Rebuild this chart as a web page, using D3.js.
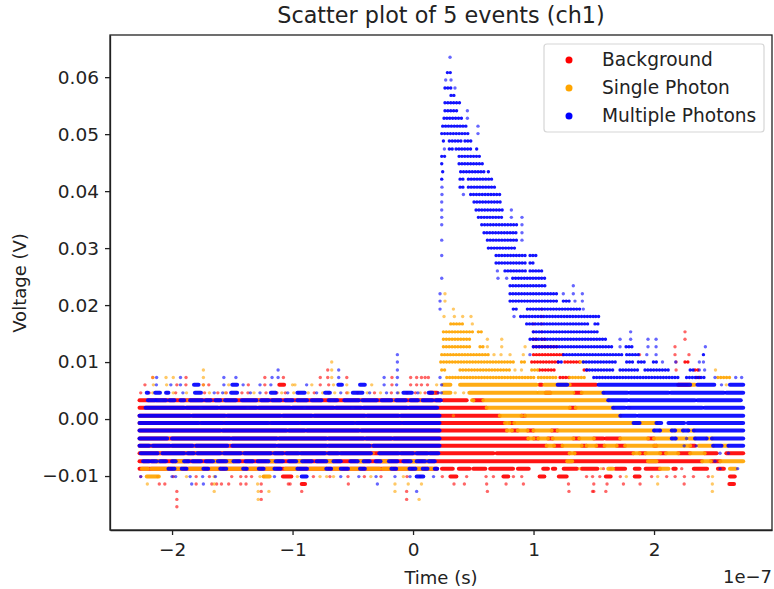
<!DOCTYPE html>
<html lang="en">
<head>
<meta charset="UTF-8">
<title>Scatter plot of 5 events (ch1)</title>
<script src="https://d3js.org/d3.v7.min.js"></script>
<style>
    body { margin: 0; background: #fff; font-family: "DejaVu Sans", sans-serif; }
    svg { display: block; }
    .axis text { font-size: 18.5px; fill: #222; font-family: "DejaVu Sans", sans-serif; }
    .axis path, .axis line { stroke: #222; stroke-width: 1.3; }
    .label { font-size: 18px; fill: #222; }
    .legend-label { font-size: 18.6px; fill: #222; }
</style>
</head>
<body>
<div id="chart"></div>
<script>
    // tick labels
    const xTicks = [-2, -1, 0, 1, 2];
    const yTicks = [-0.01, 0, 0.01, 0.02, 0.03, 0.04, 0.05, 0.06];
    const legendNames = ["Background", "Single Photon", "Multiple Photons"];

    // the digitizer only gives these voltages (V), top row first
    const levels = [
        0.0635, 0.0621, 0.0608, 0.0595, 0.0581, 0.0568, 0.0555, 0.0541, 0.0528, 0.0514,
        0.0501, 0.0488, 0.0474, 0.0461, 0.0448, 0.0434, 0.0421, 0.0407, 0.0394, 0.0381,
        0.0367, 0.0354, 0.0341, 0.0327, 0.0314, 0.0300, 0.0287, 0.0274, 0.0260, 0.0247,
        0.0234, 0.0220, 0.0207, 0.0193, 0.0180, 0.0167, 0.0153, 0.0140, 0.0127, 0.0113,
        0.0100, 0.0086, 0.0073, 0.0060, 0.0046, 0.0033, 0.0020, 0.0006, -0.0007, -0.0020,
        -0.0034, -0.0047, -0.0060, -0.0074, -0.0087, -0.0101, -0.0114, -0.0127, -0.0141, -0.0154
    ];

    // [row in levels, readings]: a number is one sample time (in 1e-7 s),
    // a pair is a stretch of touching samples
    const redRuns = [
        [33, [1.068]], [34, [1.068]], [35, [1.0, 1.068]], [36, [1.0, 1.068, 2.257]],
        [37, [[1.0, 1.03], [1.07, 1.1], 2.257]],
        [38, [[1.0, 1.2], 2.174]],
        [39, [[1.0, 1.25], 1.88, 2.174, 2.29]],
        [40, [[0.985, 1.21], [1.26, 1.39], 2.183, [2.257, 2.293]]],
        [41, [-0.708, [1.05, 1.18], [1.42, 1.46], 2.183, [2.34, 2.37]]],
        [42, [-2.16, -1.884, -1.23, -1.076, -0.77, -0.708, -0.55, -0.175, -0.02, 0.03, 0.07, 0.1, 0.127, [1.22, 1.3], [2.354, 2.38]]],
        [43, [-2.225, -1.96, -1.885, -1.74, -1.695, -1.367, -1.23, [-1.11, -1.07], -0.77, -0.7, -0.175, -0.02, 0.03, 0.07, 0.12, [1.05, 1.07], [1.3, 1.52], [2.2, 2.3]]],
        [44, [-2.26, -2.19, -1.97, -1.73, -1.62, -1.55, -1.42, -1.37, -1.22, -1.13, -1.06, -0.95, -0.82, -0.7, -0.55, -0.46, -0.32, -0.18, -0.05, 0.02, 0.1, [0.14, 0.2], [1.1, 1.14], [1.34, 1.4]]],
        [45, [[-2.27, 0.23], [0.25, 0.445], [0.5, 0.58]]],
        [46, [[-2.27, 0.611], [1.3, 1.35]]],
        [47, [[-2.27, 0.72], [0.9, 0.93]]],
        [48, [[-2.27, 0.763], [0.8, 0.84]]],
        [49, [[-2.27, 0.78], [0.82, 0.87], [0.95, 1.0], [1.15, 1.2]]],
        [50, [[-2.27, 0.957], [1.0, 1.04], [1.12, 1.16], [1.33, 1.38], [1.5, 1.58], [1.6, 1.72], [1.95, 2.0]]],
        [51, [[-2.27, 1.109], [1.17, 1.24], [1.4, 1.44], [1.52, 1.59], [1.69, 1.76], [2.0, 2.02], [2.3, 2.34]]],
        [52, [[-2.27, 0.667], [0.694, 1.3], [1.34, 1.83], [1.88, 1.93], [2.05, 2.1], [2.2, 2.3], [2.42, 2.52], [2.6, 2.74]]],
        [53, [[-2.27, 2.4], [2.47, 2.55]]],
        [54, [[-2.27, 0.2], [0.24, 0.33], [0.38, 0.47], [0.5, 0.6], [0.64, 0.83], [0.87, 0.96], [1.08, 1.12], [1.16, 1.18], [1.25, 1.36], [1.4, 1.53], 1.58, 1.64, [1.68, 1.76], [1.84, 1.88], [1.93, 2.05], [2.16, 2.18], 2.23, [2.33, 2.44], [2.53, 2.58]]],
        [55, [-2.26, -2.12, -1.99, -1.8, -1.69, -1.505, -1.43, -1.386, -1.34, -1.24, [-1.08, -1.01], -0.827, -0.69, -0.54, -0.404, -0.266, -0.05, 0.06, 0.243, [0.31, 0.36], 0.445, 0.606, 0.667, [0.75, 0.79], 0.833, 0.902, [1.05, 1.09], [1.21, 1.275], 1.44, 1.49, 1.55, [1.6, 1.64], 1.72, [1.84, 1.88], 1.98, 2.105, 2.175, 2.252, 2.327, 2.45, [2.63, 2.67]]],
        [56, [-2.106, -2.06, -1.8, -1.67, -1.63, -1.59, -1.53, -1.43, -1.386, -1.26, -1.035, -1.02, [-0.924, -0.896], -0.537, 0.34, 0.426, 0.611, 0.772, 0.916, 1.29, 1.5, 1.61, 1.746, 1.884, 2.25, [2.625, 2.664]]],
        [57, [-1.96, -1.26, -0.924, -0.053, 0.617, 1.294, 1.49, 1.5, 1.6]],
        [58, [-1.96, -1.26, -0.053]],
        [59, [-1.96]]
    ];

    const orangeRuns = [
        [31, [0.265]], [32, [0.265]],
        [33, [0.335]],
        [34, [0.257, 0.343, 0.412, 0.481]],
        [35, [[0.313, 0.431], 0.492]],
        [36, [[0.252, 0.5], [0.542, 0.57]]],
        [37, [[0.252, 0.487], 0.617, 0.736]],
        [38, [[0.252, 0.487], [0.556, 0.584], 0.617, 0.736, 0.93]],
        [39, [[0.238, 0.625], 0.672, 0.73, 0.805, 0.915]],
        [40, [-0.675, [0.23, 0.846], [0.9, 0.94], [1.39, 1.42]]],
        [41, [-1.74, -0.675, [0.238, 0.28], [0.39, 0.805], 0.846, 0.9, [0.985, 1.05], 2.51]],
        [42, [-2.16, -2.05, -1.99, -1.74, -0.675, [0.28, 1.026], [1.04, 1.2], [1.3, 1.44], [2.53, 2.63]]],
        [43, [-2.155, -2.045, -1.74, -1.53, -1.0, -0.98, -0.84, -0.66, -0.55, -0.343, 0.196, [0.25, 0.31], [0.39, 1.026], [1.09, 1.3], [2.3, 2.34], 2.6]],
        [44, [-2.16, -2.04, -1.99, -1.88, -1.69, -1.56, -1.32, -1.09, -0.99, -0.87, -0.75, -0.65, -0.54, -0.38, -0.27, -0.12, 0.06, 0.17, [0.25, 0.31], 0.35, 0.42, [0.467, 1.026], [1.04, 1.33], [1.4, 1.58]]],
        [45, [-2.09, -1.87, -1.57, -1.28, -1.03, -0.67, -0.43, -0.16, 0.06, [0.49, 0.5], [0.584, 1.62]]],
        [46, [-1.76, -1.37, -0.9, -0.5, [0.611, 1.3], [1.35, 1.66], 1.8]],
        [47, [-1.84, -1.55, -1.09, -0.83, -0.39, -0.11, 0.335, [0.72, 0.9], [0.93, 1.72]]],
        [48, [-1.77, -1.19, -0.48, [0.763, 0.8], [0.84, 1.83], [1.85, 2.02]]],
        [49, [-1.59, -1.04, -0.44, [0.78, 0.82], [0.87, 0.95], [1.0, 1.15], [1.2, 2.0], [2.05, 2.147], [2.175, 2.24], [2.285, 2.33]]],
        [50, [-2.03, -1.51, -1.12, -0.71, -0.4, -0.17, [0.957, 1.0], [1.04, 1.12], [1.16, 1.33], [1.38, 1.5], [1.72, 1.95], [2.0, 2.147], [2.18, 2.27], [2.29, 2.34], [2.44, 2.48]]],
        [51, [-2.17, -1.82, -1.53, -1.13, -0.71, -0.34, [1.109, 1.17], [1.24, 1.4], [1.44, 1.52], [1.59, 1.69], [1.76, 2.0], [2.02, 2.25], [2.26, 2.3], [2.37, 2.49], [2.57, 2.61]]],
        [52, [-2.1, -1.88, -1.8, -1.58, -1.41, -1.16, -0.94, -0.717, -0.61, -0.33, -0.11, 0.02, 0.13, [1.3, 1.34], [1.83, 1.88], [1.93, 2.05], [2.1, 2.2], [2.3, 2.42]]],
        [53, [[-2.13, -2.1], [-1.97, -1.9], [-1.66, -1.62], [-1.55, -1.49], [-1.2, -1.14], [-0.97, -0.92], [-0.72, -0.66], [-0.46, -0.41], [-0.27, -0.2], [-0.02, 0.03], [0.1, 0.13], [1.28, 1.32], [1.95, 2.02], [2.4, 2.47], [2.55, 2.74]]],
        [54, [[-2.25, -2.2], [-2.17, -2.03], [-1.98, -1.92], [-1.86, -1.75], [-1.68, -1.6], [-1.55, -1.41], [-1.36, -1.28], [-1.22, -1.15], [-1.06, -0.96], [-0.86, -0.72], [-0.66, -0.6], [-0.52, -0.44], [-0.38, -0.28], [-0.25, -0.18], [-0.12, -0.03], [0.02, 0.08], [0.12, 0.16], 1.38, 1.56, [1.62, 1.66], [2.05, 2.12], [2.63, 2.68]]],
        [55, [[-2.21, -2.11], -1.88, -1.65, -1.27, [-1.24, -1.19], -0.96, -0.772, -0.717, -0.66, -0.35, -0.08, 1.77, 2.03, 2.485]],
        [56, [-2.205, -1.65, -1.29, -0.15, -0.04, 0.07, 2.03, 2.484]],
        [57, [-1.65, -1.285, -1.196, -0.15, 2.484]],
        [58, [-1.285, 0.05]]
    ];

    const blueRuns = [
        [0, [0.307]], [2, [[0.285, 0.326]]], [3, [0.271, 0.315]], [4, [[0.265, 0.321], 0.348]],
        [5, [[0.315, 0.357]]], [6, [[0.265, 0.39]]], [7, [[0.265, 0.384], 0.451]],
        [8, [[0.257, 0.412], 0.451]], [9, [[0.246, 0.459], 0.539]], [10, [[0.238, 0.467], 0.539]],
        [11, [[0.252, 0.274], [0.301, 0.404], [0.431, 0.495]]],
        [12, [0.26, [0.301, 0.329], [0.357, 0.5], [0.528, 0.548]]],
        [13, [[0.238, 0.265], [0.382, 0.57]]],
        [14, [[0.238, 0.257], [0.382, 0.597]]],
        [15, [[0.246, 0.257], [0.395, 0.597], [0.625, 0.639]]],
        [16, [[0.238, 0.252], [0.39, 0.431], [0.459, 0.667]]],
        [17, [0.24, [0.39, 0.423], [0.459, 0.689]]],
        [18, [0.24, 0.418, [0.478, 0.722]]],
        [19, [0.238, [0.506, 0.744]]],
        [20, [0.238, [0.523, 0.75], 0.816]],
        [21, [0.238, [0.542, 0.75], 0.816, 0.904]],
        [22, [0.238, [0.57, 0.86], 0.904]],
        [23, [[0.589, 0.86], 0.904]],
        [24, [0.238, [0.617, 0.86], 0.904]],
        [25, [[0.625, 0.846]]],
        [26, [0.238, [0.689, 0.943], [0.971, 1.04]]],
        [27, [[0.689, 0.943], [0.971, 1.012]]],
        [28, [0.7, [0.763, 0.943], [0.971, 1.08]]],
        [29, [0.238, 0.705, 0.777, [0.827, 1.095]]],
        [30, [[0.805, 1.109], 1.33]],
        [31, [0.224, [0.805, 1.206], 1.247, 1.33, 1.405]],
        [32, [0.224, [0.805, 1.206], [1.247, 1.297], 1.344, 1.405]],
        [33, [0.224, [0.832, 0.874], [0.949, 1.386], 1.413]],
        [34, [0.838, [0.893, 1.496], [1.516, 1.55]]],
        [35, [[0.943, 1.455], [1.51, 1.55]]],
        [36, [[0.998, 1.55], 1.806]],
        [37, [[0.971, 1.607], 1.718, 1.806, 1.95, 2.017]],
        [38, [[0.998, 1.649], 1.718, [1.768, 1.823], 1.95, 2.017, 2.426]],
        [39, [-0.13, 0.97, [1.25, 1.732], [1.773, 1.884], 1.94, 2.017, [2.41, 2.43]]],
        [40, [-0.13, [1.206, 1.247], [1.413, 1.7], [1.773, 1.842], [1.87, 1.925], [1.995, 2.02], 2.07, 2.18, 2.376, 2.41]],
        [41, [-1.12, -0.617, -0.13, [1.44, 1.68], [1.718, 1.884], [1.925, 2.12], [2.3, 2.34], 2.376, 2.42]],
        [42, [-2.128, -1.93, -1.57, -1.47, -1.17, -1.12, -0.617, -0.24, -0.13, 0.224, [1.5, 2.216], [2.27, 2.437], 2.506, 2.678, 2.727]],
        [43, [-2.13, -2.01, -1.93, [-1.818, -1.78], -1.57, [-1.5, -1.46], -1.41, -1.27, -1.18, -0.883, [-0.62, -0.59], [-0.44, -0.4], -0.24, -0.136, 0.237, [1.2, 1.28], [1.54, 2.3], [2.36, 2.5], 2.56, [2.63, 2.74]]],
        [44, [[-2.21, -2.2], [-2.14, -2.1], [-2.05, -2.03], -1.91, [-1.81, -1.76], -1.65, -1.58, [-1.51, -1.46], -1.35, -1.27, [-1.18, -1.14], -1.04, [-0.96, -0.9], -0.8, [-0.73, -0.69], -0.6, [-0.5, -0.42], -0.36, -0.22, -0.13, [-0.08, -0.01], 0.04, [0.13, 0.16], 0.21, 0.235, [1.58, 1.78], [1.8, 2.12], [2.14, 2.58], [2.6, 2.74]]],
        [45, [[-2.2, -2.14], [-2.13, -2.05], [-2.02, -1.98], [-1.93, -1.9], [-1.85, -1.75], [-1.72, -1.68], [-1.64, -1.6], [-1.56, -1.47], [-1.42, -1.3], [-1.26, -1.2], [-1.17, -1.1], [-1.06, -1.0], [-0.96, -0.88], [-0.84, -0.76], [-0.7, -0.63], [-0.57, -0.45], [-0.42, -0.3], [-0.26, -0.18], [-0.14, -0.06], [-0.02, 0.04], [0.08, 0.16], [0.19, 0.23], [1.62, 1.78], [1.8, 2.34], [2.36, 2.72]]],
        [46, [[-2.22, -1.9], [-1.88, -1.62], [-1.6, -1.3], [-1.28, -1.02], [-1, -0.66], [-0.64, -0.43], [-0.41, -0.05], [-0.03, 0.2], [1.66, 1.76], [1.78, 2.4], [2.42, 2.74]]],
        [47, [[-2.27, -1.85], [-1.83, -1.56], [-1.54, -1.1], [-1.08, -0.84], [-0.82, -0.4], [-0.38, -0.12], [-0.1, 0.22], [1.72, 1.85], [1.87, 2.74]]],
        [48, [[-2.27, -1.78], [-1.76, -1.58], [-1.56, -1.2], [-1.18, -0.95], [-0.93, -0.49], [-0.47, -0.1], [-0.08, 0.22], [1.83, 1.88], [2.02, 2.06], [2.12, 2.25], [2.28, 2.74]]],
        [49, [[-2.27, -1.6], [-1.58, -1.05], [-1.03, -0.9], [-0.88, -0.45], [-0.43, 0.22], [2.0, 2.05], [2.147, 2.175], [2.24, 2.285], [2.33, 2.74]]],
        [50, [[-2.27, -2.04], [-2, -1.52], [-1.5, -1.13], [-1.11, -0.72], [-0.7, -0.41], [-0.39, -0.18], [-0.16, 0.22], [2.147, 2.18], 2.27, [2.34, 2.437], [2.48, 2.74]]],
        [51, [[-2.27, -2.19], [-2.16, -2.02], [-2, -1.83], [-1.8, -1.54], [-1.5, -1.14], [-1.12, -0.72], [-0.7, -0.36], [-0.33, 0.22], 2.25, 2.35, [2.49, 2.56], [2.617, 2.74]]],
        [52, [[-2.26, -2.12], [-2.08, -1.9], [-1.87, -1.82], [-1.79, -1.6], [-1.57, -1.43], [-1.4, -1.18], [-1.15, -1.08], [-1.05, -0.95], [-0.93, -0.73], [-0.7, -0.62], [-0.6, -0.35], [-0.28, -0.12], [-0.1, 0], [0.03, 0.12], [0.14, 0.21], 2.548, 2.617]],
        [53, [[-2.24, -2.19], [-2.17, -2.13], [-2.1, -2.05], [-2, -1.97], [-1.9, -1.86], [-1.83, -1.76], [-1.72, -1.66], [-1.62, -1.55], [-1.49, -1.44], [-1.39, -1.33], [-1.29, -1.2], [-1.14, -1.08], [-1.03, -0.97], [-0.92, -0.84], [-0.8, -0.72], [-0.66, -0.6], [-0.52, -0.46], [-0.41, -0.36], [-0.31, -0.27], [-0.2, -0.13], [-0.08, -0.02], [0.03, 0.1], [0.13, 0.18], 2.506]],
        [54, [[-2.03, -1.98], [-1.92, -1.88], [-1.74, -1.7], [-1.6, -1.55], [-1.41, -1.38], [-1.28, -1.24], [-1.15, -1.1], [-0.96, -0.88], [-0.72, -0.68], [-0.6, -0.54], [-0.44, -0.4], [-0.18, -0.14], [-0.03, 0.02], [0.08, 0.12], [0.18, 0.2], 2.548, 2.694]],
        [55, [-2.26, -2.0, -1.97, -1.85, -1.746, -1.64, -1.15, [-0.924, -0.883], -0.6, -0.45, -0.307, -0.15, -0.025, [0.03, 0.085], 0.17]],
        [56, [-1.837, -1.74, -0.296]],
        [57, [0.03]]
    ];

    const margin = {top: 35, right: 2, bottom: 59, left: 110};
    const fullWidth = 774, fullHeight = 589;

    const svg = d3.select("#chart").append("svg")
        .attr("width", fullWidth)
        .attr("height", fullHeight);

    const x = d3.scaleLinear()
        .domain([-2.515, 2.979])
        .range([margin.left, fullWidth - margin.right]);

    const y = d3.scaleLinear()
        .domain([-0.01947, 0.0674])
        .range([fullHeight - margin.bottom, margin.top]);

    // turn the rows into segments, a single time gives a zero length one
    function segments(runs) {
        const out = [];
        runs.forEach(([row, readings]) => {
            readings.forEach(r => {
                const span = Array.isArray(r);
                out.push({v: levels[row], t0: span ? r[0] : r, t1: span ? r[1] : r, span});
            });
        });
        return out;
    }

    // rows above the noise band are thin enough to show separate dots
    const isUpper = d => d.v > 0.006;

    const marks = svg.append("g").style("filter", "blur(0.5px)");
    [[redRuns, "#ff0000"], [orangeRuns, "#ffa500"], [blueRuns, "#0000ff"]].forEach(([runs, color]) => {
        marks.append("g").selectAll("line")
            .data(segments(runs))
            .enter().append("line")
            .attr("x1", d => x(d.t0))
            .attr("x2", d => x(d.t1))
            .attr("y1", d => y(d.v))
            .attr("y2", d => y(d.v))
            .attr("stroke", color)
            .attr("stroke-width", d => !d.span ? 3.4 : isUpper(d) ? 3.4 : 4)
            .attr("stroke-linecap", "round")
            .attr("stroke-dasharray", d => d.span && isUpper(d) ? "0 2.9" : null)
            .attr("stroke-opacity", d => d.span ? 0.92 : 0.6);
    });

    // axes
    const fmtX = d => d3.format("d")(d).replace("-", "−");
    const fmtY = d => d3.format(".2f")(d).replace("-", "−");

    svg.append("g")
        .attr("class", "axis")
        .attr("transform", `translate(0,${fullHeight - margin.bottom})`)
        .call(d3.axisBottom(x).tickValues(xTicks).tickFormat(fmtX).tickSize(5).tickPadding(8).tickSizeOuter(0));

    svg.append("g")
        .attr("class", "axis")
        .attr("transform", `translate(${margin.left},0)`)
        .call(d3.axisLeft(y).tickValues(yTicks).tickFormat(fmtY).tickSize(5).tickPadding(6).tickSizeOuter(0));

    // frame
    svg.append("rect")
        .attr("x", margin.left)
        .attr("y", margin.top)
        .attr("width", fullWidth - margin.left - margin.right)
        .attr("height", fullHeight - margin.top - margin.bottom)
        .attr("fill", "none")
        .attr("stroke", "#222")
        .attr("stroke-width", 1.3);

    // titles
    svg.append("text")
        .attr("x", 441).attr("y", 23)
        .attr("text-anchor", "middle")
        .attr("font-size", 22.3).attr("fill", "#222")
        .text("Scatter plot of 5 events (ch1)");
    svg.append("text").attr("class", "label")
        .attr("x", 441).attr("y", 584)
        .attr("text-anchor", "middle")
        .text("Time (s)");
    svg.append("text").attr("class", "label")
        .attr("transform", "translate(26,283) rotate(-90)")
        .attr("text-anchor", "middle")
        .text("Voltage (V)");
    svg.append("text").attr("class", "label")
        .attr("x", 772).attr("y", 583)
        .attr("text-anchor", "end")
        .text("1e−7");

    // legend
    const legend = svg.append("g");
    legend.append("rect")
        .attr("x", 544).attr("y", 44)
        .attr("width", 220).attr("height", 88)
        .attr("rx", 3)
        .attr("fill", "#fff").attr("fill-opacity", 0.8)
        .attr("stroke", "#d6d6d6").attr("stroke-width", 1.2);
    ["#ff0000", "#ffa500", "#0000ff"].forEach((color, i) => {
        const row = legend.append("g").attr("transform", `translate(0,${60 + i * 28})`);
        row.append("circle").attr("cx", 569).attr("cy", 0).attr("r", 3.5).attr("fill", color);
        row.append("text").attr("class", "legend-label")
            .attr("x", 602).attr("y", 6)
            .text(legendNames[i]);
    });
</script>
</body>
</html>
